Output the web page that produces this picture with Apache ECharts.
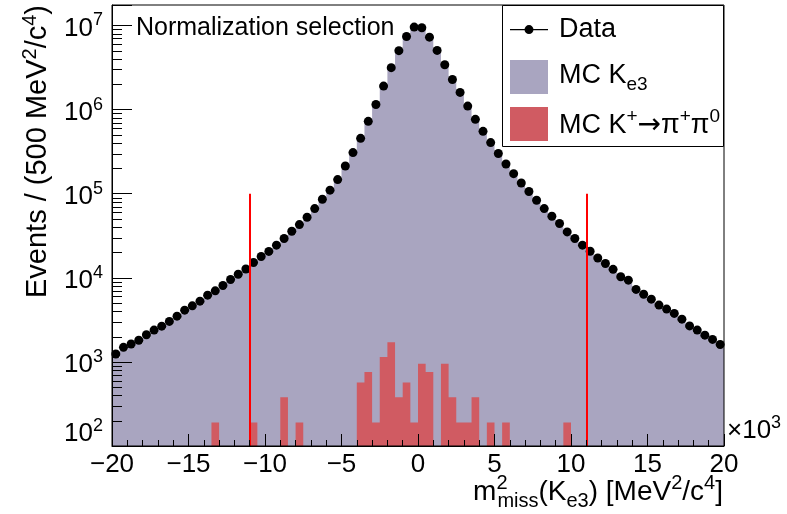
<!DOCTYPE html>
<html>
<head>
<meta charset="utf-8">
<script src="https://cdn.jsdelivr.net/npm/echarts@6/dist/echarts.min.js"></script>
<style>
  html, body { margin: 0; padding: 0; background: #fff; }
  #chart { width: 787px; height: 514px; }
</style>
</head>
<body>
<div id="chart"></div>
<script>
// bins of 500 MeV^2/c^4, x in units of 10^3 MeV^2/c^4
const binLow = -20;
const binWidth = 0.5;

const dataCounts = [
  1240, 1490, 1630, 1810, 2100, 2390, 2660, 3030, 3500, 4120,
  4640, 5270, 6210, 6990, 8100, 9550, 11000, 12700, 15200, 17900,
  20600, 24400, 29300, 35700, 42900, 52500, 66500, 85700, 110000, 147000,
  213000, 308000, 455000, 724000, 1150000, 1900000, 3150000, 5010000, 7390000, 9550000,
  9400000, 7260000, 5050000, 3410000, 2280000, 1600000, 1100000, 765000, 551000, 405000,
  300000, 225000, 173000, 134000, 106000, 83500, 66500, 53900, 44200, 35100,
  29300, 24400, 20700, 17200, 14800, 12600, 10300, 9370, 7270, 6380,
  5570, 4730, 4240, 3770, 3220, 2680, 2390, 2080, 1850, 1610
];

const mcKe3 = [
  1120, 1360, 1500, 1660, 1930, 2200, 2450, 2790, 3220, 3790,
  4270, 4850, 5710, 6430, 7450, 8790, 10100, 11700, 14000, 16500,
  19000, 22500, 27000, 33000, 39800, 48800, 62000, 80300, 103000, 139000,
  203000, 295000, 438000, 700000, 1120000, 1850000, 3080000, 4920000, 7290000, 9450000,
  9310000, 7170000, 4970000, 3340000, 2220000, 1550000, 1060000, 735000, 527000, 385000,
  284000, 212000, 162000, 125000, 98500, 77300, 61400, 49600, 40600, 32200,
  26900, 22400, 19000, 15800, 13600, 11600, 9480, 8620, 6690, 5870,
  5120, 4350, 3900, 3470, 2960, 2470, 2200, 1910, 1700, 1480
];

const mcK2pi = [
  0, 0, 0, 0, 0, 0, 0, 0, 0, 0,
  0, 0, 0, 190, 0, 0, 0, 0, 190, 0,
  0, 0, 380, 0, 190, 0, 0, 0, 0, 0,
  0, 0, 570, 760, 190, 1140, 1710, 380, 570, 190,
  950, 760, 0, 950, 380, 190, 190, 380, 0, 190,
  0, 190, 0, 0, 0, 0, 0, 0, 0, 190,
  0, 0, 0, 0, 0, 0, 0, 0, 0, 0,
  0, 0, 0, 0, 0, 0, 0, 0, 0, 0
];

const cutPositions = [-11, 11];
const cutHeight = 1e5;

const xMin = -20, xMax = 20;
const yMin = 100, yMax = 1.75e7;

const FONT = "'Liberation Sans', Arial, Helvetica, sans-serif";
const PURPLE = '#a9a5c0';
const RED = '#d05b62';

const legendLabels = {
  'Data': '{t|Data}',
  'MC Ke3': '{tb|MC K}{sb|e3}',
  'MC K+ -> pi+ pi0': '{tp|MC K}{sp|+}{a|\u2192}{tp|\u03c0}{sp|+}{tp|\u03c0}{sp|0}'
};

// line with a marker, boxed to 38x34 so all legend rows have equal height
const dataIcon = 'path://M0,0L0,0 M38,34L38,34 M0,16h38v1.3h-38z M14.5,16.6a4.5,4.5 0 1,1 9,0a4.5,4.5 0 1,1 -9,0z';

function binEdge(i) {
  return binLow + i * binWidth;
}

// closed step outline of a histogram, in pixels
function stepArea(api, counts) {
  const pts = [api.coord([binEdge(0), yMin])];
  counts.forEach((c, i) => {
    const v = c > 0 ? c : yMin;
    pts.push(api.coord([binEdge(i), v]), api.coord([binEdge(i + 1), v]));
  });
  pts.push(api.coord([binEdge(counts.length), yMin]));
  return pts;
}

// ROOT style minor ticks on the log axis (2..9 x 10^n)
const minorTickValues = [];
for (let d = 2; d < 7; d++) {
  for (let m = 2; m <= 9; m++) minorTickValues.push(m * Math.pow(10, d));
}

const chart = echarts.init(document.getElementById('chart'));

const option = {
  animation: false,
  textStyle: { fontFamily: FONT },
  title: [
    {
      text: 'Normalization selection',
      left: 136, top: 16, padding: 0,
      textStyle: { fontSize: 25, fontWeight: 'normal', color: '#000', fontFamily: FONT }
    },
    {
      text: '{t|\u00d710}{s|3}',
      left: 727, top: 414, padding: 0,
      textStyle: {
        color: '#000', fontFamily: FONT, fontWeight: 'normal',
        rich: {
          t: { fontSize: 26, lineHeight: 34, verticalAlign: 'middle', color: '#000', fontFamily: FONT },
          s: { fontSize: 18, verticalAlign: 'top', color: '#000', fontFamily: FONT }
        }
      }
    }
  ],
  grid: {
    left: 112, right: 63, top: 5, bottom: 68,
    show: true, borderColor: '#000', borderWidth: 1, backgroundColor: 'transparent',
    z: 6, containLabel: false, outerBoundsMode: 'none'
  },
  graphic: [
    {
      type: 'rect', z: 10, silent: true,
      shape: { x: 502.5, y: 5.5, width: 221, height: 141 },
      style: { fill: '#fff', stroke: '#000', lineWidth: 1 }
    }
  ],
  legend: {
    orient: 'vertical', left: 510, top: 13, padding: 0,
    itemGap: 13, itemWidth: 38, itemHeight: 34,
    selectedMode: false, z: 20,
    data: [
      { name: 'Data', icon: dataIcon },
      { name: 'MC Ke3', icon: 'rect' },
      { name: 'MC K+ -> pi+ pi0', icon: 'rect' }
    ],
    formatter: (name) => legendLabels[name],
    textStyle: {
      color: '#000', fontFamily: FONT, fontSize: 27, padding: [0, 0, 0, 6],
      rich: {
        t: { fontSize: 27, lineHeight: 34, verticalAlign: 'middle', color: '#000', fontFamily: FONT },
        tb: { fontSize: 27, lineHeight: 34, verticalAlign: 'middle', padding: [0, 0, 3, 0], color: '#000', fontFamily: FONT },
        tp: { fontSize: 27, lineHeight: 34, verticalAlign: 'middle', padding: [3, 0, 0, 0], color: '#000', fontFamily: FONT },
        a: { fontSize: 28, verticalAlign: 'middle', padding: [3, 0, 0, 0], color: '#000', fontFamily: "'DejaVu Sans', sans-serif" },
        sb: { fontSize: 19, verticalAlign: 'bottom', color: '#000', fontFamily: FONT },
        sp: { fontSize: 19, verticalAlign: 'top', color: '#000', fontFamily: FONT }
      }
    }
  },
  xAxis: {
    type: 'value', min: xMin, max: xMax, interval: 5, z: 5,
    axisLine: { onZero: false, lineStyle: { color: '#000', width: 1 } },
    axisTick: { inside: true, length: 12, lineStyle: { color: '#000' } },
    minorTick: { show: true, splitNumber: 5, length: 6, lineStyle: { color: '#000' } },
    splitLine: { show: false },
    axisLabel: {
      color: '#000', fontSize: 26, fontFamily: FONT, margin: 6,
      hideOverlap: false, showMinLabel: true, showMaxLabel: true,
      formatter: (v) => (v < 0 ? '\u2212' + Math.abs(v) : String(v))
    },
    name: '{t|m}{p|2}{q|miss}{t|(K}{q|e3}{t|) [MeV}{s|2}{t|/c}{s|4}{t|]}',
    nameLocation: 'end', nameGap: -1, nameMoveOverlap: false,
    nameTextStyle: {
      align: 'right', verticalAlign: 'top', padding: [27, 0, 0, 0],
      color: '#000', fontFamily: FONT,
      rich: {
        t: { fontSize: 28, lineHeight: 38, align: 'left', verticalAlign: 'middle', color: '#000', fontFamily: FONT },
        p: { fontSize: 20, width: 1, align: 'left', verticalAlign: 'top', color: '#000', fontFamily: FONT },
        q: { fontSize: 20, align: 'left', verticalAlign: 'bottom', color: '#000', fontFamily: FONT },
        s: { fontSize: 20, align: 'left', verticalAlign: 'top', color: '#000', fontFamily: FONT }
      }
    }
  },
  yAxis: {
    type: 'log', logBase: 10, min: yMin, max: yMax, z: 5,
    axisLine: { show: true, onZero: false, lineStyle: { color: '#000', width: 1 } },
    axisTick: { show: true, inside: true, length: 20, lineStyle: { color: '#000' } },
    splitLine: { show: false },
    axisLabel: {
      color: '#000', fontSize: 26, fontFamily: FONT, margin: 9, padding: [6, 0, 0, 0],
      hideOverlap: false, showMinLabel: true, showMaxLabel: true,
      formatter: (v) => {
        const e = Math.log10(v);
        const n = Math.round(e);
        if (Math.abs(e - n) > 1e-6) return '';
        return n === 2 ? '{b0|10}{s0|' + n + '}' : '{b|10}{s|' + n + '}';
      },
      rich: {
        b: { fontSize: 26, lineHeight: 34, verticalAlign: 'middle', color: '#000', fontFamily: FONT },
        s: { fontSize: 18, verticalAlign: 'top', color: '#000', fontFamily: FONT },
        b0: { fontSize: 26, lineHeight: 64, verticalAlign: 'top', padding: [4, 0, 0, 0], color: '#000', fontFamily: FONT },
        s0: { fontSize: 18, verticalAlign: 'top', color: '#000', fontFamily: FONT }
      }
    },
    name: '{t|Events / (500 MeV}{s|2}{t|/c}{s|4}{t|)}',
    nameLocation: 'end', nameRotate: 90, nameGap: 0, nameMoveOverlap: false,
    nameTextStyle: {
      align: 'right', verticalAlign: 'bottom', padding: [0, 0, 56, 0],
      color: '#000', fontFamily: FONT,
      rich: {
        t: { fontSize: 29, lineHeight: 36, verticalAlign: 'middle', color: '#000', fontFamily: FONT },
        s: { fontSize: 20, verticalAlign: 'top', color: '#000', fontFamily: FONT }
      }
    }
  },
  series: [
    {
      name: 'MC Ke3', type: 'custom', clip: true, silent: true, z: 2,
      itemStyle: { color: PURPLE },
      data: [[binLow, yMin]],
      renderItem: (params, api) => ({
        type: 'polygon',
        shape: { points: stepArea(api, mcKe3) },
        style: { fill: PURPLE }
      })
    },
    {
      name: 'MC K+ -> pi+ pi0', type: 'custom', clip: true, silent: true, z: 3,
      itemStyle: { color: RED },
      data: [[binLow, yMin]],
      renderItem: (params, api) => ({
        type: 'polygon',
        shape: { points: stepArea(api, mcK2pi) },
        style: { fill: RED }
      })
    },
    {
      name: 'Data', type: 'scatter', symbol: 'circle', symbolSize: 9, z: 4, silent: true,
      itemStyle: { color: '#000', opacity: 1 },
      data: dataCounts.map((c, i) => [binEdge(i) + binWidth / 2, c]),
      markLine: {
        silent: true, symbol: ['none', 'none'],
        label: { show: false },
        lineStyle: { color: '#ff0000', width: 2, type: 'solid', opacity: 1 },
        data: cutPositions.map((x) => [{ coord: [x, yMin] }, { coord: [x, cutHeight] }])
      }
    },
    {
      name: 'minorTicks', type: 'custom', clip: false, silent: true, z: 7,
      data: minorTickValues.map((v) => [xMin, v]),
      renderItem: (params, api) => {
        const p = api.coord([xMin, api.value(1)]);
        const y = Math.round(p[1]) + 0.5;
        return {
          type: 'line',
          shape: { x1: p[0], y1: y, x2: p[0] + 10, y2: y },
          style: { stroke: '#000', lineWidth: 1 }
        };
      }
    }
  ]
};

chart.setOption(option);
</script>
</body>
</html>
